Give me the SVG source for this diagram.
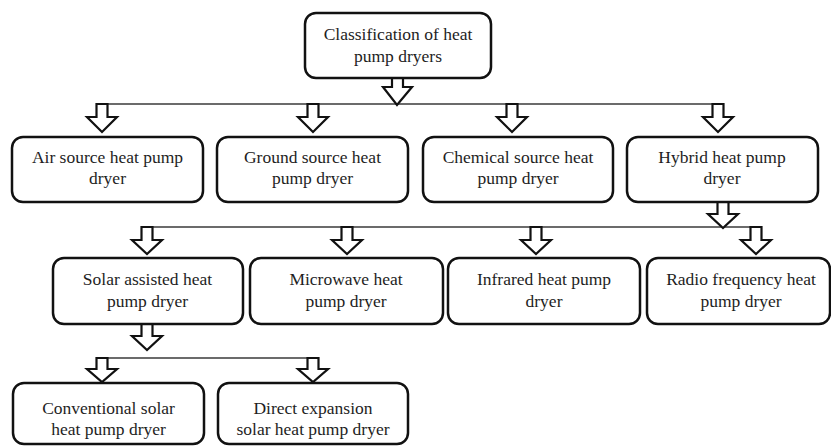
<svg xmlns="http://www.w3.org/2000/svg" width="831" height="446" viewBox="0 0 831 446">
  <style>
    .box { fill: #ffffff; stroke: #111111; stroke-width: 2.5; }
    .lbl { font-family: 'Liberation Serif', 'Times New Roman', Times, 'DejaVu Serif', serif; font-size: 17.5px; fill: #1e1e1e; text-anchor: middle; }
    .bus { stroke: #3a3a3a; stroke-width: 1.6; fill: none; }
    .arw { fill: #ffffff; stroke: #111111; stroke-width: 2.2; stroke-linejoin: miter; }
  </style>
  <rect width="831" height="446" fill="#ffffff"/>

  <!-- connectors: bus lines and hollow block arrows -->
  <g id="connectors">
    <line class="bus" x1="102" y1="104" x2="718" y2="104"/>
    <line class="bus" x1="147" y1="227" x2="756" y2="227"/>
    <line class="bus" x1="102" y1="358" x2="313" y2="358"/>

    <!-- root to level 1 -->
    <path class="arw" d="M392,78 V87 H383 L397,105 L412,87 H403 V78 Z"/>
    <path class="arw" d="M96.5,104 V117 H87 L102,132 L117,117 H107.5 V104 Z"/>
    <path class="arw" d="M307.5,104 V117 H298 L313,132 L328,117 H318.5 V104 Z"/>
    <path class="arw" d="M506.5,104 V117 H497 L512,132 L527,117 H517.5 V104 Z"/>
    <path class="arw" d="M712.5,104 V117 H703 L718,132 L733,117 H723.5 V104 Z"/>

    <!-- hybrid to level 2 -->
    <path class="arw" d="M717.5,202 V214 H708 L723,228 L738,214 H728.5 V202 Z"/>
    <path class="arw" d="M141.5,227 V240 H132 L147,254 L162,240 H152.5 V227 Z"/>
    <path class="arw" d="M341.5,227 V240 H332 L347,254 L362,240 H352.5 V227 Z"/>
    <path class="arw" d="M530.5,227 V240 H521 L536,254 L551,240 H541.5 V227 Z"/>
    <path class="arw" d="M750.5,227 V240 H741 L756,254 L771,240 H761.5 V227 Z"/>

    <!-- solar assisted to level 3 -->
    <path class="arw" d="M141.5,324 V336 H132 L147,350 L162,336 H152.5 V324 Z"/>
    <path class="arw" d="M96.5,358 V369 H87 L102,382 L117,369 H107.5 V358 Z"/>
    <path class="arw" d="M307.5,358 V369 H298 L313,382 L328,369 H318.5 V358 Z"/>
  </g>

  <!-- root -->
  <g id="root">
    <rect class="box" x="305" y="13" width="186" height="65" rx="11"/>
    <text class="lbl" x="398" y="40" font-family="Liberation Serif">Classification of heat</text>
    <text class="lbl" x="398" y="62" font-family="Liberation Serif">pump dryers</text>
  </g>

  <!-- level 1 -->
  <g id="air-source">
    <rect class="box" x="12" y="137" width="191" height="65" rx="11"/>
    <text class="lbl" x="107.5" y="163">Air source heat pump</text>
    <text class="lbl" x="107.5" y="184">dryer</text>
  </g>
  <g id="ground-source">
    <rect class="box" x="217" y="137" width="191" height="65" rx="11"/>
    <text class="lbl" x="312.5" y="163">Ground source heat</text>
    <text class="lbl" x="312.5" y="184">pump dryer</text>
  </g>
  <g id="chemical-source">
    <rect class="box" x="423" y="137" width="190" height="65" rx="11"/>
    <text class="lbl" x="518" y="163">Chemical source heat</text>
    <text class="lbl" x="518" y="184">pump dryer</text>
  </g>
  <g id="hybrid">
    <rect class="box" x="627" y="137" width="191" height="65" rx="11"/>
    <text class="lbl" x="722" y="163">Hybrid heat pump</text>
    <text class="lbl" x="722" y="184">dryer</text>
  </g>

  <!-- level 2 -->
  <g id="solar-assisted">
    <rect class="box" x="53" y="258" width="190" height="66" rx="11"/>
    <text class="lbl" x="147.5" y="285">Solar assisted heat</text>
    <text class="lbl" x="147.5" y="307">pump dryer</text>
  </g>
  <g id="microwave">
    <rect class="box" x="250" y="258" width="193" height="66" rx="11"/>
    <text class="lbl" x="346" y="285">Microwave heat</text>
    <text class="lbl" x="346" y="307">pump dryer</text>
  </g>
  <g id="infrared">
    <rect class="box" x="448" y="258" width="192" height="66" rx="11"/>
    <text class="lbl" x="544" y="285">Infrared heat pump</text>
    <text class="lbl" x="544" y="307">dryer</text>
  </g>
  <g id="radio-frequency">
    <rect class="box" x="647" y="258" width="183" height="66" rx="11"/>
    <text class="lbl" x="741" y="285">Radio frequency heat</text>
    <text class="lbl" x="741" y="307">pump dryer</text>
  </g>

  <!-- level 3 -->
  <g id="conventional-solar">
    <rect class="box" x="13" y="383" width="191" height="61" rx="11"/>
    <text class="lbl" x="108.5" y="414">Conventional solar</text>
    <text class="lbl" x="108.5" y="435">heat pump dryer</text>
  </g>
  <g id="direct-expansion">
    <rect class="box" x="218" y="383" width="190" height="61" rx="11"/>
    <text class="lbl" x="313" y="414">Direct expansion</text>
    <text class="lbl" x="313" y="435">solar heat pump dryer</text>
  </g>
</svg>
